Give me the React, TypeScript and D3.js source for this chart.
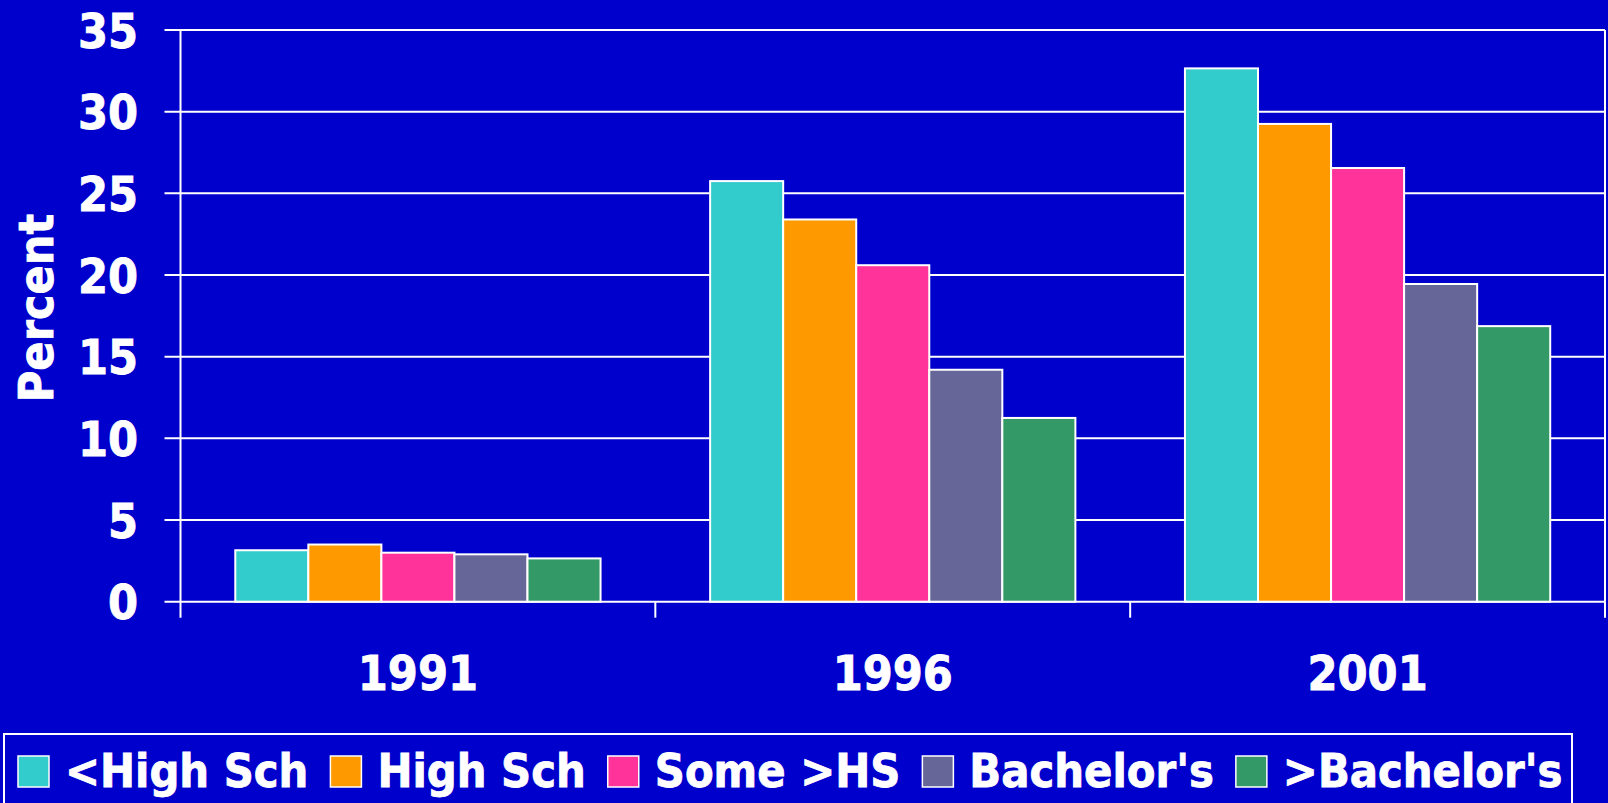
import React, { useEffect, useRef } from "react";
import * as d3 from "d3";

const years = ["1991", "1996", "2001"];
const seriesNames = ["<High Sch", "High Sch", "Some >HS", "Bachelor's", ">Bachelor's"];
const seriesColors = ["#33CCCC", "#FF9900", "#FF3399", "#666699", "#339966"];
const lessHS = [3.15, 25.75, 32.65];
const highSch = [3.5, 23.4, 29.25];
const someHS = [3.0, 20.6, 26.55];
const bachelors = [2.9, 14.2, 19.45];
const moreBach = [2.65, 11.25, 16.87];
const yTicks = [0, 5, 10, 15, 20, 25, 30, 35];

const W = 1608;
const H = 803;
const BG = "#0000CC";
const FONT = "'DejaVu Sans Condensed', 'DejaVu Sans', sans-serif";
const FS = 48;
const LEGEND_FS = 46.5;

export default function App() {
  const ref = useRef<SVGSVGElement | null>(null);

  useEffect(() => {
    const svg = d3.select(ref.current);
    svg.selectAll("*").remove();
    const values = [lessHS, highSch, someHS, bachelors, moreBach];

    const left = 180.5, right = 1605, top = 30, bottom = 601.7;
    const x = d3.scaleBand<string>().domain(years).range([left, right]).padding(0);
    const xi = d3.scaleBand<string>().domain(seriesNames).range([0, x.bandwidth()]).paddingInner(0).paddingOuter(0.75);
    const y = d3.scaleLinear().domain([0, 35]).range([bottom, top]);

    svg.append("rect").attr("width", W).attr("height", H).attr("fill", BG);

    const styleText = (sel: any, fs: number = FS) =>
      sel.attr("font-family", FONT).attr("font-weight", "bold").attr("font-size", fs)
        .attr("fill", "white").attr("stroke", "white").attr("stroke-width", 0.8);

    // gridlines
    svg.append("g").selectAll("line").data(yTicks).join("line")
      .attr("x1", left - 16).attr("x2", right)
      .attr("y1", (d) => y(d)).attr("y2", (d) => y(d))
      .attr("stroke", "white").attr("stroke-width", 2);

    // left axis line
    svg.append("line").attr("x1", left).attr("x2", left).attr("y1", top).attr("y2", bottom + 16)
      .attr("stroke", "white").attr("stroke-width", 2);
    // category ticks
    const catEdges = [...years.map((d) => x(d)!), right];
    svg.append("g").selectAll("line").data(catEdges.slice(1)).join("line")
      .attr("x1", (d) => d).attr("x2", (d) => d)
      .attr("y1", bottom).attr("y2", bottom + 16)
      .attr("stroke", "white").attr("stroke-width", 2);
    svg.append("line").attr("x1", right).attr("x2", right).attr("y1", top).attr("y2", bottom)
      .attr("stroke", "white").attr("stroke-width", 2);

    // bars
    seriesNames.forEach((s, si) => {
      svg.append("g").selectAll("rect").data(years).join("rect")
        .attr("x", (d) => x(d)! + xi(s)!)
        .attr("width", xi.bandwidth())
        .attr("y", (d, i) => y(values[si][i]))
        .attr("height", (d, i) => y(0) - y(values[si][i]))
        .attr("fill", seriesColors[si])
        .attr("stroke", "white").attr("stroke-width", 2);
    });

    // y tick labels
    svg.append("g").selectAll("text").data(yTicks).join("text")
      .attr("x", 138).attr("y", (d) => y(d) + 17.5)
      .attr("text-anchor", "end")
      .call(styleText)
      .text((d) => String(d));

    // x labels
    svg.append("g").selectAll("text").data(years).join("text")
      .attr("x", (d) => x(d)! + x.bandwidth() / 2).attr("y", 690)
      .attr("text-anchor", "middle")
      .call(styleText)
      .text((d) => d);

    // y title
    svg.append("text")
      .attr("transform", "translate(53,308) rotate(-90)")
      .attr("text-anchor", "middle")
      .call(styleText)
      .text("Percent");

    // legend
    svg.append("rect").attr("x", 4).attr("y", 734).attr("width", 1568).attr("height", 120)
      .attr("fill", "none").attr("stroke", "white").attr("stroke-width", 2);
    let cx = 18;
    seriesNames.forEach((s, si) => {
      svg.append("rect").attr("x", cx).attr("y", 756).attr("width", 31).attr("height", 31)
        .attr("fill", seriesColors[si]).attr("stroke", "white").attr("stroke-width", 1.5);
      const t = svg.append("text").attr("x", cx + 47).attr("y", 787)
        .call(styleText, LEGEND_FS)
        .text(s);
      const w = (t.node() as SVGTextElement).getComputedTextLength();
      cx = cx + 47 + w + 22;
    });
  }, []);

  return (
    <svg ref={ref} width={W} height={H} style={{ position: "absolute", left: 0, top: 0, display: "block" }} />
  );
}
